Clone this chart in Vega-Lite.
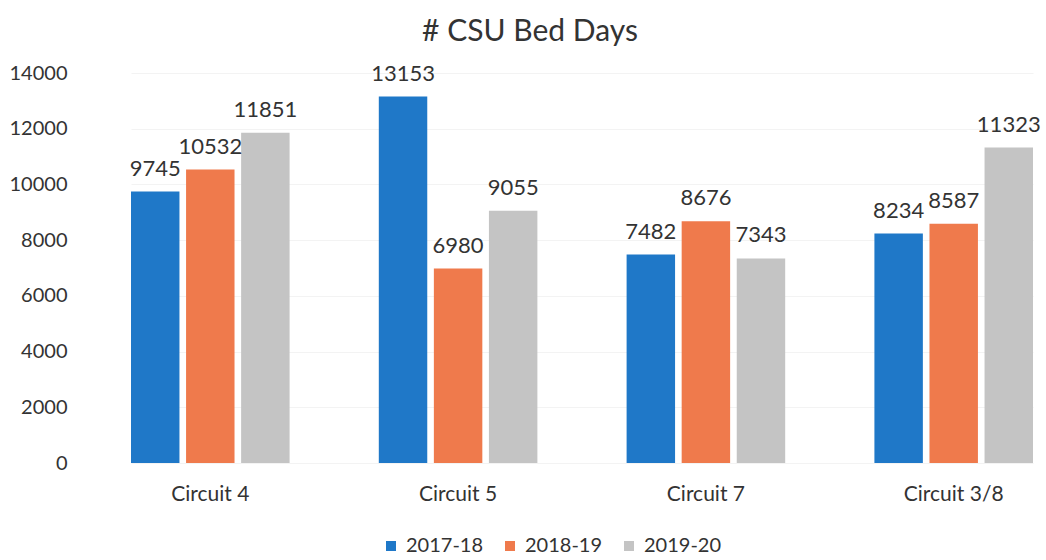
{
  "$schema": "https://vega.github.io/schema/vega-lite/v6.json",
  "width": 966,
  "height": 390,
  "autosize": {"type": "none"},
  "padding": {"left": 80, "top": 73, "right": 0, "bottom": 97},
  "background": "white",
  "title": {"text": "# CSU Bed Days", "fontSize": 30, "font": "Lato", "fontWeight": "normal", "color": "#333333", "anchor": "middle", "dx": -33, "offset": 16},
  "config": {"view": {"stroke": null}, "font": "Lato"},
  "data": {"values": [
    {"circuit": "Circuit 4", "year": "2017-18", "days": 9745},
    {"circuit": "Circuit 4", "year": "2018-19", "days": 10532},
    {"circuit": "Circuit 4", "year": "2019-20", "days": 11851},
    {"circuit": "Circuit 5", "year": "2017-18", "days": 13153},
    {"circuit": "Circuit 5", "year": "2018-19", "days": 6980},
    {"circuit": "Circuit 5", "year": "2019-20", "days": 9055},
    {"circuit": "Circuit 7", "year": "2017-18", "days": 7482},
    {"circuit": "Circuit 7", "year": "2018-19", "days": 8676},
    {"circuit": "Circuit 7", "year": "2019-20", "days": 7343},
    {"circuit": "Circuit 3/8", "year": "2017-18", "days": 8234},
    {"circuit": "Circuit 3/8", "year": "2018-19", "days": 8587},
    {"circuit": "Circuit 3/8", "year": "2019-20", "days": 11323}
  ]},
  "encoding": {
    "x": {"field": "circuit", "type": "nominal", "sort": null,
      "scale": {"range": [51, 953], "paddingInner": 0.36, "paddingOuter": 0},
      "axis": {"title": null, "labelAngle": 0, "labelFontSize": 21, "labelColor": "#333333", "labelPadding": 20, "ticks": false, "domain": false}},
    "xOffset": {"field": "year", "type": "nominal", "scale": {"paddingInner": 0.12, "paddingOuter": 0}},
    "y": {"field": "days", "type": "quantitative",
      "scale": {"domain": [0, 14000]},
      "axis": {"title": null, "values": [0, 2000, 4000, 6000, 8000, 10000, 12000, 14000], "format": "d", "labelFontSize": 20, "labelColor": "#333333", "labelPadding": 13, "ticks": false, "domain": false, "gridColor": "#f3f3f3", "gridWidth": 1}}
  },
  "layer": [
    {
      "mark": {"type": "bar"},
      "encoding": {
        "color": {"field": "year", "type": "nominal",
          "scale": {"domain": ["2017-18", "2018-19", "2019-20"], "range": ["#1f78c8", "#ef7a4c", "#c4c4c4"]},
          "legend": {"title": null, "orient": "none", "direction": "horizontal", "legendX": 301, "legendY": 463, "symbolType": "square", "symbolSize": 100, "labelFontSize": 20, "labelColor": "#333333", "columnPadding": 16, "labelOffset": 5, "symbolStrokeWidth": 0}}
      }
    },
    {
      "mark": {"type": "text", "baseline": "alphabetic", "dy": -16, "fontSize": 22, "color": "#333333"},
      "encoding": {"text": {"field": "days", "type": "quantitative", "format": "d"}}
    }
  ]
}
